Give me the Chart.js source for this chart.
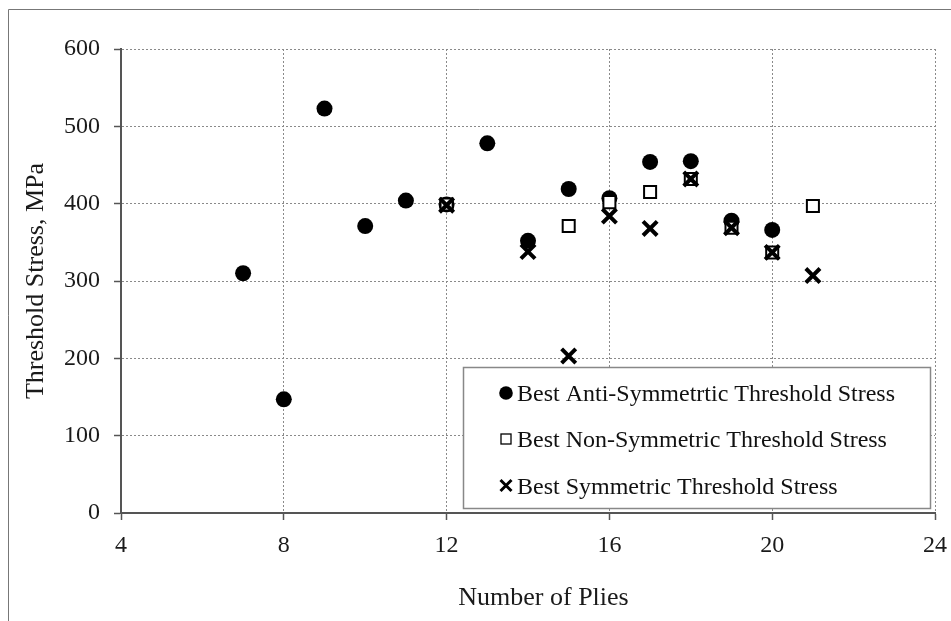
<!DOCTYPE html>
<html>
<head>
<meta charset="utf-8">
<script src="https://cdn.jsdelivr.net/npm/chart.js@4.4.0/dist/chart.umd.min.js"></script>
<style>
  html, body { margin: 0; padding: 0; background: #fff; }
  #wrap { position: relative; width: 951px; height: 621px; }
</style>
</head>
<body>
<div id="wrap"><canvas id="chart" width="951" height="621"></canvas></div>
<script>
(function () {
  // Number of plies for each series
  const antiPlies = [7, 8, 9, 10, 11, 12, 13, 14, 15, 16, 17, 18, 19, 20];
  const antiStress = [310, 147, 523, 371, 404, 399, 478, 352, 419, 407, 454, 455, 378, 366];

  const nonPlies = [12, 15, 16, 17, 18, 19, 20, 21];
  const nonStress = [399, 371, 402, 415, 432, 369, 337, 397];

  const symPlies = [12, 14, 15, 16, 17, 18, 19, 20, 21];
  const symStress = [398, 338, 203, 384, 368, 432, 369, 337, 307];

  const legendLabels = [
    'Best Anti-Symmetrtic Threshold Stress',
    'Best Non-Symmetric Threshold Stress',
    'Best Symmetric Threshold Stress'
  ];
  const xTicks = [4, 8, 12, 16, 20, 24];
  const yTicks = [0, 100, 200, 300, 400, 500, 600];
  const xTitle = 'Number of Plies';
  const yTitle = 'Threshold Stress, MPa';

  const serif = "'Liberation Serif', 'Times New Roman', serif";
  const pts = (xs, ys) => xs.map((x, i) => ({ x, y: ys[i] }));

  // outer frame of the figure
  const framePlugin = {
    id: 'frame',
    beforeDraw(chart) {
      const ctx = chart.ctx;
      ctx.save();
      ctx.strokeStyle = '#777';
      ctx.lineWidth = 1;
      ctx.beginPath();
      ctx.moveTo(8.5, 621);
      ctx.lineTo(8.5, 9.5);
      ctx.lineTo(951, 9.5);
      ctx.stroke();
      ctx.restore();
    }
  };

  // x title sits a little right of the plot centre in the original
  const xTitlePlugin = {
    id: 'xTitle',
    afterDraw(chart) {
      const ctx = chart.ctx;
      ctx.save();
      ctx.font = '26px ' + serif;
      ctx.fillStyle = '#1a1a1a';
      ctx.textAlign = 'center';
      ctx.textBaseline = 'alphabetic';
      ctx.fillText(xTitle, 543.5, 605);
      ctx.restore();
    }
  };

  // legend box drawn inside the plot, bottom right
  const boxLegend = {
    id: 'boxLegend',
    afterDraw(chart) {
      const ctx = chart.ctx;
      ctx.save();
      ctx.fillStyle = '#fff';
      ctx.fillRect(463.5, 367.5, 467, 141);
      ctx.strokeStyle = '#888';
      ctx.lineWidth = 1.5;
      ctx.strokeRect(463.5, 367.5, 467, 141);

      const mx = 506;
      const rows = [393, 439, 485.5];
      ctx.fillStyle = '#000';
      ctx.beginPath();
      ctx.arc(mx, rows[0], 6.8, 0, Math.PI * 2);
      ctx.fill();

      ctx.strokeStyle = '#000';
      ctx.lineWidth = 1.3;
      ctx.strokeRect(mx - 5, rows[1] - 5, 10, 10);

      ctx.lineWidth = 3;
      ctx.beginPath();
      ctx.moveTo(mx - 5.5, rows[2] - 5.5);
      ctx.lineTo(mx + 5.5, rows[2] + 5.5);
      ctx.moveTo(mx + 5.5, rows[2] - 5.5);
      ctx.lineTo(mx - 5.5, rows[2] + 5.5);
      ctx.stroke();

      ctx.font = '24px ' + serif;
      ctx.fillStyle = '#111';
      ctx.textBaseline = 'alphabetic';
      legendLabels.forEach((t, i) => ctx.fillText(t, 517, rows[i] + 8));
      ctx.restore();
    }
  };

  new Chart(document.getElementById('chart'), {
    type: 'scatter',
    data: {
      datasets: [
        {
          label: legendLabels[0],
          data: pts(antiPlies, antiStress),
          pointStyle: 'circle',
          pointRadius: 8,
          backgroundColor: '#000',
          borderColor: '#000',
          borderWidth: 0,
          order: 3
        },
        {
          label: legendLabels[1],
          data: pts(nonPlies, nonStress),
          pointStyle: 'rect',
          pointRadius: 8.5,
          backgroundColor: '#fff',
          borderColor: '#000',
          borderWidth: 2,
          order: 2
        },
        {
          label: legendLabels[2],
          data: pts(symPlies, symStress),
          pointStyle: 'crossRot',
          pointRadius: 10,
          backgroundColor: '#000',
          borderColor: '#000',
          borderWidth: 4,
          order: 1
        }
      ]
    },
    options: {
      responsive: false,
      animation: false,
      events: [],
      devicePixelRatio: 1,
      layout: { padding: { top: 49, right: 16, left: 0, bottom: 0 } },
      plugins: {
        legend: { display: false },
        tooltip: { enabled: false }
      },
      scales: {
        x: {
          type: 'linear',
          min: 4,
          max: 24,
          afterFit(scale) {
            scale.height = 108;
            scale.paddingLeft = 0;
            scale.paddingRight = 0;
          },
          afterBuildTicks(scale) { scale.ticks = xTicks.map(v => ({ value: v })); },
          grid: {
            color: '#8a8a8a',
            lineWidth: 1,
            tickColor: '#555',
            tickLength: 7,
            tickWidth: 1.5
          },
          border: { display: true, color: '#555', width: 2, dash: [2, 2] },
          ticks: {
            padding: 11,
            maxRotation: 0,
            font: { family: serif, size: 24 },
            color: '#1a1a1a'
          },
          title: { display: false }
        },
        y: {
          type: 'linear',
          min: 0,
          max: 600,
          afterFit(scale) { scale.width = 121; },
          afterBuildTicks(scale) { scale.ticks = yTicks.map(v => ({ value: v })); },
          grid: {
            color: '#8a8a8a',
            lineWidth: 1,
            tickColor: '#555',
            tickLength: 7,
            tickWidth: 1.5
          },
          border: { display: true, color: '#555', width: 2, dash: [2, 2] },
          ticks: {
            padding: 14,
            font: { family: serif, size: 24 },
            color: '#1a1a1a'
          },
          title: {
            display: true,
            text: yTitle,
            font: { family: serif, size: 26 },
            color: '#1a1a1a',
            padding: { top: 21, bottom: 0 }
          }
        }
      }
    },
    plugins: [framePlugin, boxLegend, xTitlePlugin]
  });
})();
</script>
</body>
</html>
